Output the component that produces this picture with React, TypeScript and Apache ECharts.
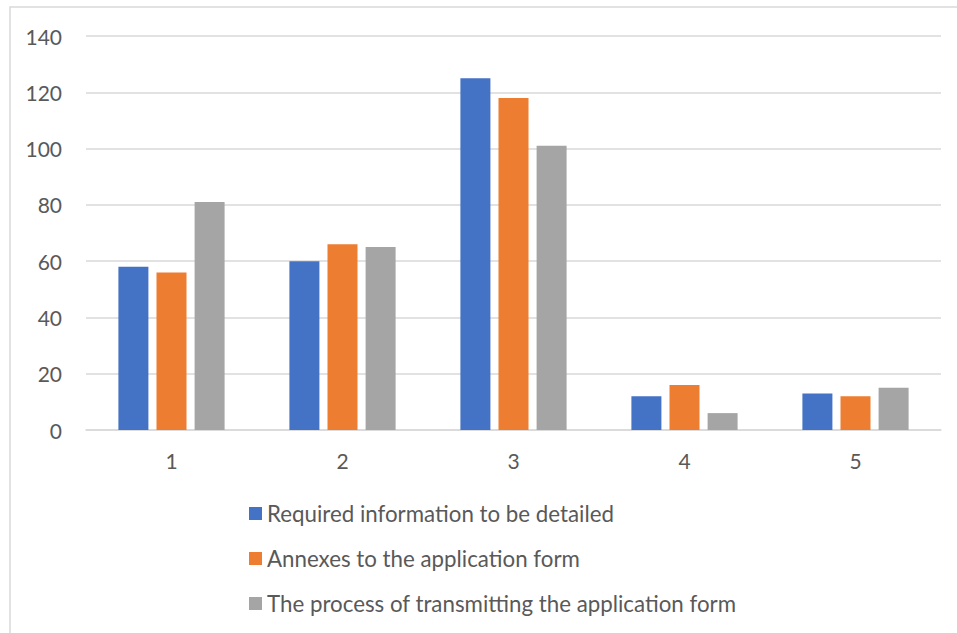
import React, { useEffect, useRef } from "react";
import * as echarts from "echarts";

const categories = ["1", "2", "3", "4", "5"];
const seriesNames = [
  "Required information to be detailed",
  "Annexes to the application form",
  "The process of transmitting the application form",
];
const requiredInfo = [58, 60, 125, 12, 13];
const annexes = [56, 66, 118, 16, 12];
const transmitting = [81, 65, 101, 6, 15];
const colors = ["#4472C4", "#ED7D31", "#A5A5A5"];

export default function App() {
  const ref = useRef<HTMLDivElement>(null);
  useEffect(() => {
    if (!ref.current) return;
    const chart = echarts.init(ref.current, null, { renderer: "svg" });
    const font = "Lato, 'Open Sans', sans-serif";
    const values = [requiredInfo, annexes, transmitting];
    chart.setOption({
      animation: false,
      backgroundColor: "#ffffff",
      color: colors,
      textStyle: { fontFamily: font },
      graphic: [
        {
          type: "rect",
          shape: { x: 10, y: 7, width: 1000, height: 700 },
          style: { fill: "none", stroke: "#d9d9d9", lineWidth: 1.5 },
          silent: true,
        },
      ],
      grid: { left: 86, right: 16, top: 36, bottom: 203, containLabel: false },
      xAxis: {
        type: "category",
        data: categories,
        axisLine: { lineStyle: { color: "#d9d9d9", width: 1.5 } },
        axisTick: { show: false },
        axisLabel: { color: "#595959", fontSize: 21, margin: 20, fontFamily: font },
      },
      yAxis: {
        type: "value",
        min: 0,
        max: 140,
        interval: 20,
        axisLine: { show: false },
        axisTick: { show: false },
        axisLabel: { color: "#595959", fontSize: 21, margin: 24, fontFamily: font },
        splitLine: { lineStyle: { color: "#d9d9d9", width: 1.5 } },
      },
      legend: {
        orient: "vertical",
        left: 244,
        top: 496,
        itemWidth: 13,
        itemHeight: 13,
        itemGap: 20,
        icon: "rect",
        textStyle: { color: "#595959", fontSize: 22.3, fontFamily: font, lineHeight: 25 },
        data: seriesNames,
      },
      series: seriesNames.map((name, i) => ({
        name,
        type: "bar",
        data: values[i],
        barWidth: 30,
        barGap: "27%",
        itemStyle: { color: colors[i] },
      })),
    });
    return () => chart.dispose();
  }, []);
  return (
    <div
      ref={ref}
      style={{ position: "fixed", left: 0, top: 0, width: 957, height: 633, background: "#fff" }}
    />
  );
}
